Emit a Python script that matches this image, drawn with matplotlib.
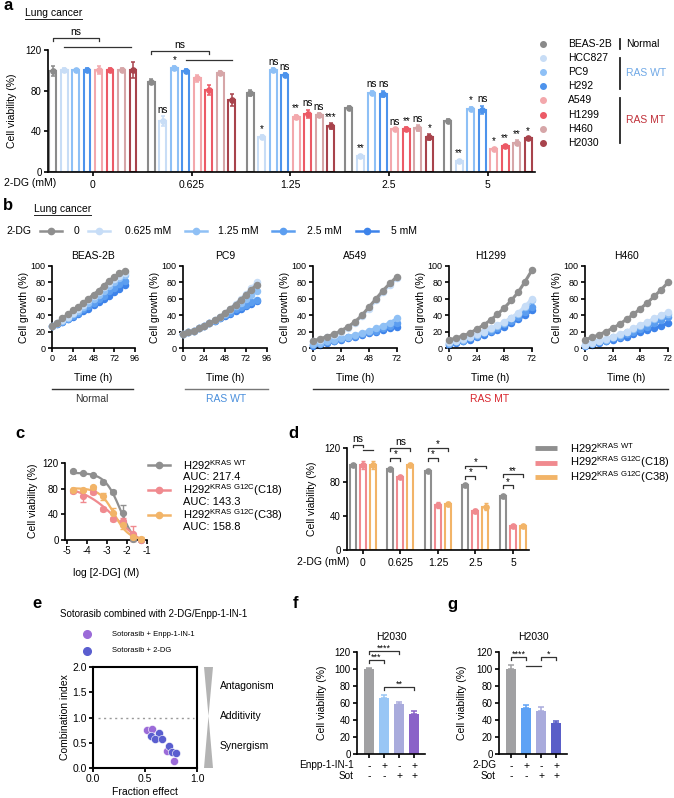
import numpy as np
import matplotlib
matplotlib.use('Agg')
import matplotlib.pyplot as plt
from matplotlib.patches import Polygon

plt.rcParams['font.family'] = ['Liberation Sans', 'DejaVu Sans']
plt.rcParams['mathtext.fontset'] = 'custom'
plt.rcParams['mathtext.rm'] = 'Liberation Sans'
plt.rcParams['mathtext.it'] = 'Liberation Sans:italic'
plt.rcParams['mathtext.bf'] = 'Liberation Sans:bold'

# ======================= DATA =======================
# ---- panel a ----
a_cells = ['BEAS-2B', 'HCC827', 'PC9', 'H292', 'A549', 'H1299', 'H460', 'H2030']
a_doses = ['0', '0.625', '1.25', '2.5', '5']
a_beas = [99, 89, 78, 63, 50]
a_hcc827 = [100, 50, 34, 16, 11]
a_pc9 = [100, 102, 100, 78, 62]
a_h292 = [100, 99, 95, 77, 61]
a_a549 = [100, 92, 54, 42, 23]
a_h1299 = [100, 81, 57, 42, 26]
a_h460 = [100, 97, 56, 43, 29]
a_h2030 = [100, 71, 45, 34, 33]
e_beas = [5, 2, 3, 2, 2]
e_hcc827 = [2, 5, 2, 1, 1]
e_pc9 = [1.5, 2, 2, 2, 2]
e_h292 = [2, 2, 2, 3, 4]
e_a549 = [4, 3, 2, 1, 1]
e_h1299 = [2, 5, 4, 2, 1]
e_h460 = [2, 2, 2, 3, 2]
e_h2030 = [8, 6, 3, 3, 1]
s_beas = ['', '', '', '', '']
s_hcc827 = ['', 'ns', '*', '**', '**']
s_pc9 = ['', '*', 'ns', 'ns', '*']
s_h292 = ['', '', 'ns', 'ns', 'ns']
s_a549 = ['', '', '**', 'ns', '*']
s_h1299 = ['', '', 'ns', '**', '**']
s_h460 = ['', '', 'ns', 'ns', '**']
s_h2030 = ['', '', '***', '*', '*']

# ---- panel b ----
b_doses = ['0', '0.625 mM', '1.25 mM', '2.5 mM', '5 mM']
b_time_96 = [0, 6, 12, 18, 24, 30, 36, 42, 48, 54, 60, 66, 72, 78, 84]
b_time_72 = [0, 6, 12, 18, 24, 30, 36, 42, 48, 54, 60, 66, 72]
b_beas_0 = [27, 31, 36, 41, 46, 50, 55, 60, 65, 70, 76, 82, 87, 91, 94]
b_beas_0625 = [27, 30, 34, 38, 43, 48, 53, 58, 63, 68, 74, 79, 84, 88, 92]
b_beas_125 = [27, 30, 33, 37, 41, 45, 50, 55, 60, 65, 70, 75, 80, 85, 89]
b_beas_25 = [27, 29, 32, 35, 39, 43, 47, 51, 55, 60, 64, 69, 73, 78, 82]
b_beas_5 = [27, 29, 32, 35, 38, 41, 45, 48, 52, 56, 60, 64, 68, 72, 77]
b_pc9_0 = [17, 19, 21, 24, 27, 30, 34, 38, 43, 48, 53, 59, 65, 71, 77]
b_pc9_0625 = [17, 19, 21, 24, 27, 30, 34, 38, 43, 48, 54, 60, 66, 73, 80]
b_pc9_125 = [17, 19, 21, 24, 27, 30, 34, 38, 42, 46, 51, 55, 60, 65, 70]
b_pc9_25 = [17, 19, 21, 24, 27, 30, 33, 36, 40, 43, 47, 50, 53, 56, 59]
b_pc9_5 = [17, 19, 21, 24, 27, 30, 33, 36, 39, 42, 45, 48, 51, 54, 57]
b_a549_0 = [9, 11, 14, 17, 21, 26, 32, 40, 50, 60, 70, 79, 87]
b_a549_0625 = [8, 10, 13, 16, 20, 25, 31, 39, 48, 58, 68, 77, 85]
b_a549_125 = [5, 6, 8, 10, 12, 14, 16, 18, 21, 24, 27, 31, 36]
b_a549_25 = [4, 5, 7, 9, 11, 13, 15, 17, 19, 21, 24, 27, 30]
b_a549_5 = [3, 4, 6, 8, 10, 12, 14, 16, 18, 20, 22, 24, 26]
b_h1299_0 = [10, 12, 15, 18, 23, 28, 34, 41, 49, 58, 68, 81, 95]
b_h1299_0625 = [7, 9, 11, 14, 17, 20, 24, 28, 32, 37, 43, 51, 60]
b_h1299_125 = [6, 8, 10, 13, 16, 19, 23, 27, 31, 36, 42, 50, 58]
b_h1299_25 = [5, 7, 9, 12, 15, 18, 21, 25, 29, 33, 38, 44, 50]
b_h1299_5 = [4, 6, 8, 10, 13, 16, 19, 22, 26, 30, 35, 40, 46]
b_h460_0 = [10, 13, 16, 20, 24, 29, 35, 41, 48, 55, 63, 71, 80]
b_h460_0625 = [4, 6, 8, 11, 14, 17, 20, 24, 28, 32, 36, 40, 44]
b_h460_125 = [4, 6, 8, 10, 13, 16, 19, 23, 27, 31, 35, 39, 42]
b_h460_25 = [3, 5, 7, 9, 12, 14, 17, 20, 23, 26, 30, 34, 38]
b_h460_5 = [3, 4, 6, 8, 10, 12, 14, 17, 19, 22, 24, 27, 30]

# ---- panel c ----
c_logdose = [-4.72, -4.22, -3.72, -3.22, -2.72, -2.22, -1.72, -1.32]
c_wt = [107, 104, 101, 90, 75, 42, 2, 0]
c_wt_err = [2, 1, 2, 3, 3, 12, 3, 1]
c_c18 = [77, 68, 75, 48, 33, 30, 10, 0]
c_c18_err = [3, 8, 4, 3, 3, 4, 12, 2]
c_c38 = [78, 78, 82, 68, 42, 23, 5, 2]
c_c38_err = [2, 2, 2, 5, 8, 6, 3, 2]
c_auc = ['217.4', '143.3', '158.8']

# ---- panel d ----
d_doses = ['0', '0.625', '1.25', '2.5', '5']
d_wt = [100, 95, 93, 76, 63]
d_c18 = [100, 86, 53, 46, 28]
d_c38 = [100, 100, 54, 51, 28]
d_wt_err = [1.5, 1.5, 1.5, 1.5, 1.5]
d_c18_err = [5, 1.5, 4, 2, 1]
d_c38_err = [5, 2, 2, 4, 1]

# ---- panel e ----
e_fa_enpp = [0.516, 0.565, 0.71, 0.78]
e_ci_enpp = [0.75, 0.77, 0.33, 0.13]
e_fa_2dg = [0.555, 0.63, 0.60, 0.66, 0.726, 0.755, 0.797]
e_ci_2dg = [0.636, 0.69, 0.57, 0.57, 0.44, 0.31, 0.295]

# ---- panels f, g ----
f_vals = [100, 66, 59, 47]
f_err = [1.5, 4, 2.5, 4]
f_enpp = ['-', '+', '-', '+']
f_sot = ['-', '-', '+', '+']
g_vals = [100, 54, 51, 37]
g_err = [5, 4, 4, 2]
g_2dg = ['-', '+', '-', '+']
g_sot = ['-', '-', '+', '+']

# ======================= FIGURE =======================
W, H = 674, 798
fig = plt.figure(figsize=(W / 100, H / 100), dpi=100)

ov = fig.add_axes([0, 0, 1, 1])
ov.set_xlim(0, W)
ov.set_ylim(H, 0)
ov.axis('off')


def axpx(l, t, r, b):
    return fig.add_axes([l / W, 1 - b / H, (r - l) / W, (b - t) / H])


def style(ax, lw=1.2, xfs=7, yfs=6.5):
    for s in ['top', 'right']:
        ax.spines[s].set_visible(False)
    for s in ['left', 'bottom']:
        ax.spines[s].set_linewidth(lw)
    ax.tick_params(width=lw, length=3, pad=1.5)
    ax.tick_params(axis='x', labelsize=xfs)
    ax.tick_params(axis='y', labelsize=yfs)


def T(x, y, s, **kw):
    kw.setdefault('va', 'center')
    kw.setdefault('ha', 'left')
    ov.text(x, y, s, **kw)


def bracket(ax, x1, x2, y, h, text, fs=7, color='#333333', lw=0.9, ty=1.0):
    ax.plot([x1, x1, x2, x2], [y - h, y, y, y - h], color=color, lw=lw, clip_on=False)
    if text:
        ax.text((x1 + x2) / 2, y + ty, text, ha='center', va='bottom', fontsize=fs, clip_on=False)


# panel letters
for let, x, y in [('a', 4, 6), ('b', 3, 205), ('c', 15, 434), ('d', 288, 434),
                  ('e', 32, 604), ('f', 293, 604), ('g', 447, 604)]:
    T(x, y, let, fontsize=12, fontweight='bold')

# ---------------- panel a ----------------
T(25, 13, 'Lung cancer', fontsize=7.5)
ov.plot([25, 82], [19, 19], color='#222222', lw=0.7)

a_colors = ['#8a8a8a', '#c8ddf6', '#8ec0f6', '#4d93ec', '#f3a8ac', '#ec5a66', '#d6a6a8', '#a8434c']
a_vals = [a_beas, a_hcc827, a_pc9, a_h292, a_a549, a_h1299, a_h460, a_h2030]
a_errs = [e_beas, e_hcc827, e_pc9, e_h292, e_a549, e_h1299, e_h460, e_h2030]
a_sigs = [s_beas, s_hcc827, s_pc9, s_h292, s_a549, s_h1299, s_h460, s_h2030]
gap = 8.6
axa = axpx(48, 50, 535, 172)
style(axa, xfs=7.5, yfs=7)
for j in range(8):
    col = a_colors[j]
    xs = [g * gap + j - 3.5 for g in range(5)]
    axa.bar(xs, a_vals[j], width=0.6, facecolor='white', edgecolor=col, linewidth=1.5, zorder=2)
    axa.errorbar(xs, a_vals[j], yerr=a_errs[j], fmt='none', ecolor=col, elinewidth=1.1,
                 capsize=1.6, capthick=1.1, zorder=3)
    axa.plot(xs, a_vals[j], 'o', color=col, ms=3.8, zorder=4, clip_on=False)
    for x, v, e, s in zip(xs, a_vals[j], a_errs[j], a_sigs[j]):
        if s:
            axa.text(x, v + e + 1.5, s, ha='center', va='bottom', fontsize=7)
axa.set_xlim(-3.9, 38.5)
axa.set_ylim(0, 120)
axa.set_yticks([0, 40, 80, 120])
axa.set_xticks([g * gap for g in range(5)])
axa.set_xticklabels(a_doses)
axa.tick_params(axis='x', pad=3)
bracket(axa, -3.5, 0.5, 132, 3, 'ns', fs=7.5)
axa.plot([-2.5, 3.3], [123, 123], color='#333333', lw=0.9, clip_on=False)
bracket(axa, gap - 3.5, gap + 1.5, 119, 3, 'ns', fs=7.5)
axa.plot([gap - 0.5, gap + 3.5], [110, 110], color='#333333', lw=0.9, clip_on=False)
T(12, 111, 'Cell viability (%)', rotation=90, ha='center', fontsize=7.5)
T(4, 183, '2-DG (mM)', fontsize=7.5)

# legend a
for i, (name, col) in enumerate(zip(a_cells, a_colors)):
    y = 44 + i * 14.1
    ov.plot(543, y, 'o', color=col, ms=4)
    T(568, y, name, fontsize=7.5)
ov.plot([620, 620], [39, 49], color='#222222', lw=1.3)
ov.plot([620, 620], [58, 89], color='#222222', lw=1.3)
ov.plot([620, 620], [98, 143], color='#222222', lw=1.3)
T(626, 44, 'Normal', fontsize=7.5)
T(626, 73, 'RAS WT', fontsize=7.5, color='#6fa8e6')
T(626, 120, 'RAS MT', fontsize=7.5, color='#c0313a')

# ---------------- panel b ----------------
T(34, 209, 'Lung cancer', fontsize=7.5)
ov.plot([34, 91], [215, 215], color='#222222', lw=0.7)
b_colors = ['#8f8f8f', '#c7ddf7', '#8fc0f5', '#5c9ef0', '#3d83ea']
T(6, 231, '2-DG', fontsize=7.5)
leg_x = [(40, 62, 77, 'center'), (88, 110, 125, 'left'), (185, 207, 218, 'left'),
         (272, 294, 307, 'left'), (356, 378, 391, 'left')]
for (x1, x2, tx, ha), col, lab in zip(leg_x, b_colors, b_doses):
    ov.plot([x1, x2], [231, 231], color=col, lw=1.8)
    ov.plot((x1 + x2) / 2, 231, 'o', color=col, ms=4.5)
    T(tx, 231, lab, fontsize=7.5, ha=ha)

b_panels = [
    ('BEAS-2B', 52, 135, 96, b_time_96, [b_beas_0, b_beas_0625, b_beas_125, b_beas_25, b_beas_5]),
    ('PC9', 183, 267, 96, b_time_96, [b_pc9_0, b_pc9_0625, b_pc9_125, b_pc9_25, b_pc9_5]),
    ('A549', 313, 397, 72, b_time_72, [b_a549_0, b_a549_0625, b_a549_125, b_a549_25, b_a549_5]),
    ('H1299', 449, 532, 72, b_time_72, [b_h1299_0, b_h1299_0625, b_h1299_125, b_h1299_25, b_h1299_5]),
    ('H460', 585, 668, 72, b_time_72, [b_h460_0, b_h460_0625, b_h460_125, b_h460_25, b_h460_5]),
]
for name, l, r, xmax, t, series in b_panels:
    ax = axpx(l, 266, r, 348)
    style(ax, xfs=6.5, yfs=6.5)
    for k in [4, 3, 2, 1, 0]:
        ax.plot(t, series[k], '-o', color=b_colors[k], ms=4.4, lw=2.2, zorder=2 + (4 - k),
                clip_on=False)
    ax.set_xlim(0, xmax)
    ax.set_ylim(0, 100)
    ax.set_xticks(list(range(0, xmax + 1, 24)))
    ax.set_yticks([0, 20, 40, 60, 80, 100])
    ax.set_ylabel('Cell growth (%)', fontsize=7.5, labelpad=1)
    ax.set_title(name, fontsize=7.5, pad=5)
    T((l + r) / 2, 378, 'Time (h)', ha='center', fontsize=7.5)

ov.plot([52, 133], [389, 389], color='#333333', lw=1.0)
ov.plot([185, 268], [389, 389], color='#777777', lw=1.0)
ov.plot([313, 668], [389, 389], color='#333333', lw=1.0)
T(92, 399, 'Normal', ha='center', fontsize=7.5, color='#333333')
T(226, 399, 'RAS WT', ha='center', fontsize=7.5, color='#4a8fdc')
T(490, 399, 'RAS MT', ha='center', fontsize=7.5, color='#d8262e')

# ---------------- panel c ----------------


def fit_4pl(x, y):
    x = np.asarray(x, float)
    y = np.asarray(y, float)
    best = None
    for lc in np.linspace(-4.5, -1.5, 151):
        for h in np.linspace(0.3, 3.0, 55):
            f = 1 / (1 + 10 ** ((x - lc) * h))
            A = np.column_stack([f, 1 - f])
            coef, *_ = np.linalg.lstsq(A, y, rcond=None)
            sse = np.sum((A @ coef - y) ** 2)
            if best is None or sse < best[0]:
                best = (sse, lc, h, coef)
    return best[1:]


axc = axpx(65, 463, 147, 540)
style(axc, xfs=7, yfs=7)
c_colors = ['#8f8f8f', '#f08a8f', '#f2b468']
c_sets = [(c_wt, c_wt_err), (c_c18, c_c18_err), (c_c38, c_c38_err)]
xx = np.linspace(min(c_logdose), max(c_logdose), 200)
for (vals, err), col in zip(c_sets, c_colors):
    lc, h, (top, bot) = fit_4pl(c_logdose, vals)
    fx = 1 / (1 + 10 ** ((xx - lc) * h))
    axc.plot(xx, top * fx + bot * (1 - fx), color=col, lw=1.6, zorder=2)
    axc.errorbar(c_logdose, vals, yerr=err, fmt='o', color=col, ms=4.2, elinewidth=1,
                 capsize=2, zorder=3, clip_on=False)
axc.set_xlim(-5.1, -1.0)
axc.set_ylim(0, 120)
axc.set_xticks([-5, -4, -3, -2, -1])
axc.set_xticklabels(['-5', '-4', '-3', '-2', '-1'])
axc.set_yticks([0, 40, 80, 120])
T(33, 501, 'Cell viability (%)', rotation=90, ha='center', fontsize=7.5)
T(106, 573, 'log [2-DG] (M)', ha='center', fontsize=7.5)
c_labels = [r'H292$^{\mathregular{KRAS\ WT}}$', r'H292$^{\mathregular{KRAS\ G12C}}$(C18)',
            r'H292$^{\mathregular{KRAS\ G12C}}$(C38)']
for i, (col, lab, auc) in enumerate(zip(c_colors, c_labels, c_auc)):
    y = 465 + i * 25
    ov.plot([148, 170], [y, y], color=col, lw=1.8)
    ov.plot(159, y, 'o', color=col, ms=4.5)
    T(183, y, lab, fontsize=8)
    T(183, y + 12, 'AUC: ' + auc, fontsize=8)

# ---------------- panel d ----------------
axd = axpx(347, 448, 529, 550)
style(axd, xfs=7.5, yfs=7)
dgap = 3.75
d_sets = [(d_wt, d_wt_err), (d_c18, d_c18_err), (d_c38, d_c38_err)]
for k, ((vals, err), col) in enumerate(zip(d_sets, c_colors)):
    xs = [g * dgap + k - 1 for g in range(5)]
    axd.bar(xs, vals, width=0.6, facecolor='white', edgecolor=col, linewidth=1.5, zorder=2)
    axd.errorbar(xs, vals, yerr=err, fmt='none', ecolor=col, elinewidth=1.1, capsize=1.5, zorder=3)
    axd.plot(xs, vals, 'o', color=col, ms=3.8, zorder=4)
axd.set_xlim(-1.6, 16.6)
axd.set_ylim(0, 120)
axd.set_yticks([0, 40, 80, 120])
axd.set_xticks([g * dgap for g in range(5)])
axd.set_xticklabels(d_doses)
axd.tick_params(axis='x', pad=3)
bracket(axd, -1, 0, 124, 3, 'ns', fs=7.5)
axd.plot([0, 1], [117.5, 117.5], color='#333333', lw=0.9, clip_on=False)
d_br = [(1, -1, 1, 120, 'ns'), (1, -1, 0, 108, '*'),
        (2, -1, 1, 120, '*'), (2, -1, 0, 108, '*'),
        (3, -1, 1, 99, '*'), (3, -1, 0, 87, '*'),
        (4, -1, 1, 89, '**'), (4, -1, 0, 76, '*')]
for g, i1, i2, y, s in d_br:
    bracket(axd, g * dgap + i1, g * dgap + i2, y, 3, s, fs=7.5 if s == 'ns' else 7,
            ty=1.0 if s == 'ns' else -1.5)
T(312, 499, 'Cell viability (%)', rotation=90, ha='center', fontsize=7.5)
T(349, 562, '2-DG (mM)', ha='right', fontsize=7.5)
d_labels = [r'H292$^{\mathregular{KRAS\ WT}}$', r'H292$^{\mathregular{KRAS\ G12C}}$(C18)',
            r'H292$^{\mathregular{KRAS\ G12C}}$(C38)']
for i, (col, lab) in enumerate(zip(c_colors, d_labels)):
    y = 448 + i * 14.5
    ov.plot([535, 557], [y, y], color=col, lw=3.5, solid_capstyle='butt')
    T(570, y, lab, fontsize=8)

# ---------------- panel e ----------------
T(154, 614, 'Sotorasib combined with 2-DG/Enpp-1-IN-1', ha='center', fontsize=7)
e_colors = ['#9b6bd8', '#5a5ecf']
ov.plot(87, 634, 'o', color=e_colors[0], ms=5.5)
ov.plot(87, 651, 'o', color=e_colors[1], ms=5.5)
T(112, 634, 'Sotorasib + Enpp-1-IN-1', fontsize=5.5)
T(112, 651, 'Sotorasib + 2-DG', fontsize=5.5)
axe = axpx(93, 667, 197, 768)
for s in axe.spines.values():
    s.set_linewidth(1.5)
axe.tick_params(width=1.3, length=3, pad=1.5, labelsize=7.5)
axe.axhline(1.0, color='#999999', lw=1.0, ls=(0, (1.5, 2.5)), xmin=0.05, xmax=0.97)
axe.scatter(e_fa_enpp, e_ci_enpp, s=34, color=e_colors[0], zorder=3, edgecolors='white', linewidths=0.4)
axe.scatter(e_fa_2dg, e_ci_2dg, s=34, color=e_colors[1], zorder=4, edgecolors='white', linewidths=0.4)
axe.set_xlim(0, 1)
axe.set_ylim(0, 2)
axe.set_xticks([0, 0.5, 1.0])
axe.set_xticklabels(['0.0', '0.5', '1.0'])
axe.set_yticks([0, 0.5, 1.0, 1.5, 2.0])
axe.set_yticklabels(['0.0', '0.5', '1.0', '1.5', '2.0'])
T(65, 717, 'Combination index', rotation=90, ha='center', fontsize=7.5)
T(145, 792, 'Fraction effect', ha='center', fontsize=7.5)
ov.add_patch(Polygon([(204, 667), (213, 667), (208.5, 716)], closed=True, color='#b3b3b3', lw=0))
ov.add_patch(Polygon([(208.5, 716), (204, 768), (213, 768)], closed=True, color='#b3b3b3', lw=0))
T(220, 686, 'Antagonism', fontsize=7.5)
T(220, 716, 'Additivity', fontsize=7.5)
T(220, 746, 'Synergism', fontsize=7.5)

# ---------------- panels f, g ----------------


def combo_panel(l, r, vals, err, colors, title, row1, row1_lab, row2, brs, lines):
    ax = axpx(l, 652, r, 754)
    style(ax, xfs=7, yfs=7)
    xs = list(range(len(vals)))
    ax.bar(xs, vals, width=0.67, color=colors, zorder=2)
    for x, v, e, c in zip(xs, vals, err, colors):
        ax.errorbar([x], [v], yerr=[[0], [e]], fmt='none', ecolor=c, elinewidth=1.1,
                    capsize=2.2, capthick=1.1, zorder=1)
    ax.set_xlim(-0.8, 3.73)
    ax.set_ylim(0, 120)
    ax.set_yticks([0, 20, 40, 60, 80, 100, 120])
    ax.set_xticks(xs)
    ax.set_xticklabels(row1)
    ax.tick_params(axis='x', pad=2, labelsize=7.5)
    ax.set_title(title, fontsize=7.5, pad=9)
    for x, s in zip(xs, row2):
        ax.text(x, -25.5, s, ha='center', va='center', fontsize=7.5, clip_on=False)
    ax.text(-1.0, -12.8, row1_lab, ha='right', va='center', fontsize=7.2, clip_on=False)
    ax.text(-1.0, -25.5, 'Sot', ha='right', va='center', fontsize=7.2, clip_on=False)
    for x1, x2, y, s in brs:
        bracket(ax, x1, x2, y, 3.5, s, fs=6.5, ty=-2.0)
    for x1, x2, y in lines:
        ax.plot([x1, x2], [y, y], color='#333333', lw=0.9, clip_on=False)
    return ax


combo_panel(357, 425, f_vals, f_err, ['#a1a1a3', '#99c6f5', '#a9abdc', '#8a62c8'], 'H2030',
            f_enpp, 'Enpp-1-IN-1', f_sot,
            [(0, 1, 111, '***'), (0, 2, 121, '****'), (1, 3, 79, '**')], [])
combo_panel(499, 567, g_vals, g_err, ['#a1a1a3', '#5ea2f5', '#a9abdc', '#5a5ec8'], 'H2030',
            g_2dg, '2-DG', g_sot,
            [(0, 1, 114, '****'), (2, 3, 114, '*')], [(1, 2, 104)])
T(322, 703, 'Cell viability (%)', rotation=90, ha='center', fontsize=7.5)
T(462, 703, 'Cell viability (%)', rotation=90, ha='center', fontsize=7.5)

fig.savefig('out.png', dpi=100)
